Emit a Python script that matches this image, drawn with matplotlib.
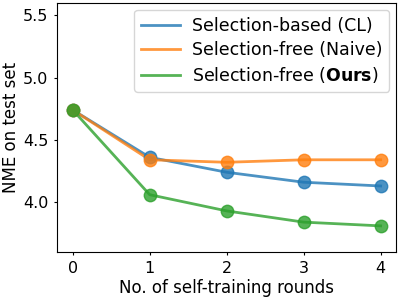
import matplotlib
matplotlib.use("Agg")
import matplotlib.pyplot as plt

rounds = [0, 1, 2, 3, 4]
cl = [4.74, 4.36, 4.24, 4.16, 4.13]
naive = [4.74, 4.34, 4.32, 4.34, 4.34]
ours = [4.74, 4.06, 3.93, 3.84, 3.81]
labels = ["Selection-based (CL)", "Selection-free (Naive)", r"Selection-free ($\bf{Ours}$)"]
colors = ["#1f77b4", "#ff7f0e", "#2ca02c"]

fig = plt.figure(figsize=(3.99, 2.99), dpi=100)
ax = fig.add_axes([0.1436, 0.157, 0.849, 0.834])
for ys, lab, c in zip([cl, naive, ours], labels, colors):
    ax.plot(rounds, ys, color=c, lw=2, alpha=0.8, label=lab)
    ax.scatter(rounds, ys, color=c, s=80, alpha=0.8, zorder=3)
ax.set_xlim(-0.2, 4.2)
ax.set_ylim(3.6, 5.6)
ax.set_xticks([0, 1, 2, 3, 4])
ax.set_yticks([4.0, 4.5, 5.0, 5.5])
ax.tick_params(labelsize=11.5, length=2.5, pad=4)
ax.set_xlabel("No. of self-training rounds", fontsize=12, labelpad=2)
ax.set_ylabel("NME on test set", fontsize=12, labelpad=2)
ax.legend(fontsize=12.5, loc="upper right", labelspacing=0.35,
          handlelength=2.2, handletextpad=0.7, borderaxespad=0.4)
fig.savefig("out.png", dpi=100)
